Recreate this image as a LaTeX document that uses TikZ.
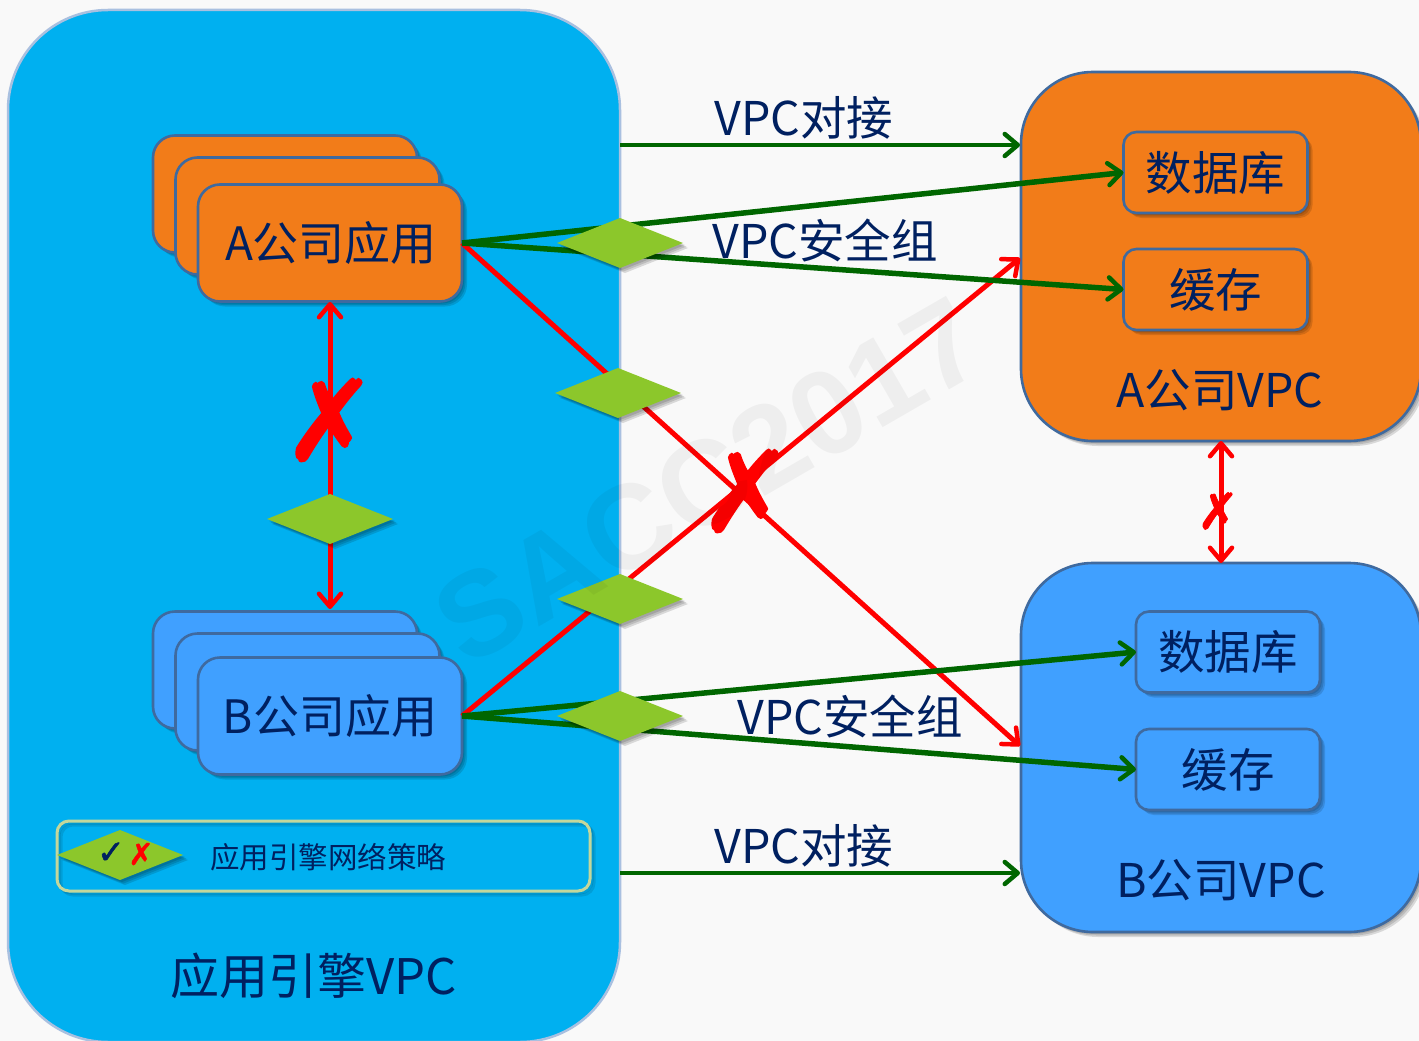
\documentclass[tikz,border=0pt]{standalone}
\usepackage{fontspec}
\setmainfont{Noto Sans CJK SC}
\newfontfamily\symfont{DejaVu Sans}
\newfontfamily\symbold{DejaVu Sans}[FakeBold=1.6]
\newfontfamily\wmfont{Liberation Sans}[BoldFont={Liberation Sans Bold}]
\usetikzlibrary{shapes.geometric,shadows,arrows.meta}
\definecolor{navy}{HTML}{002060}
\definecolor{skyb}{HTML}{00B0F0}
\definecolor{orangeb}{HTML}{F27C19}
\definecolor{blueb}{HTML}{40A0FF}
\definecolor{edgeb}{HTML}{3F6A9F}
\definecolor{mainedge}{HTML}{A9C0E0}
\definecolor{legedge}{HTML}{C4D79B}
\definecolor{greenl}{HTML}{006600}
\definecolor{dia}{HTML}{8CC72B}
\definecolor{bgc}{HTML}{F9F9F9}
\tikzset{
 softshadow/.style={
  general shadow={fill=black,opacity=.13,shadow xshift=2pt,shadow yshift=-2pt},
  general shadow={fill=black,opacity=.13,shadow xshift=3.5pt,shadow yshift=-3.5pt},
  general shadow={fill=black,opacity=.13,shadow xshift=5pt,shadow yshift=-5pt}},
 boxb/.style={rectangle,draw=edgeb,line width=2.6pt,inner sep=0pt,outer sep=0pt,text=navy,softshadow},
 txt/.style={text=navy,inner sep=0pt,font=\fontsize{46.5}{50}\selectfont},
 app/.style={boxb,minimum width=264pt,minimum height=117pt,rounded corners=22pt,font=\fontsize{46}{50}\selectfont},
 store/.style={boxb,minimum width=184pt,minimum height=81pt,rounded corners=13pt,font=\fontsize{46.5}{50}\selectfont},
 vpc/.style={boxb,minimum width=400pt,minimum height=369pt,rounded corners=72pt},
 gate/.style={diamond,fill=dia,inner sep=0pt,outer sep=0pt,minimum width=126pt,minimum height=50pt,softshadow},
 barb/.tip={Straight Barb[length=13pt,width=22pt,round,line width=4.5pt]},
 gline/.style={draw=greenl,line width=5.5pt,-barb},
 rline/.style={draw=red,line width=5pt},
 rtip/.style={barb-barb},
 crossm/.style={text=red,inner sep=0pt,font=\symbold\fontsize{#1}{#1}\selectfont}
}
\begin{document}
\begin{tikzpicture}[x=1pt,y=-1pt]
\useasboundingbox (0,0) rectangle (1419,1041);
\clip (0,0) rectangle (1419,1041);
\fill[bgc] (0,0) rectangle (1419,1041);
% large regions
\node[rectangle,draw=mainedge,line width=2.5pt,fill=skyb,inner sep=0pt,minimum width=612pt,minimum height=1032pt,rounded corners=100pt] (main) at (314,526) {};
\node[vpc,fill=orangeb] (vpca) at (1221,256.5) {};
\node[vpc,fill=blueb] (vpcb) at (1221,747.5) {};
% application stacks
\node[app,fill=orangeb] (a1) at (285,194) {};
\node[app,fill=orangeb] (a2) at (307.5,216) {};
\node[app,fill=orangeb] (a3) at (330,243) {\raisebox{-1pt}{\hspace{2pt}A公司应用}};
\node[app,fill=blueb] (b1) at (285,670) {};
\node[app,fill=blueb] (b2) at (307.5,692) {};
\node[app,fill=blueb] (b3) at (330,716) {B公司应用};
% stores
\node[store,fill=orangeb] (dba) at (1215.5,172.5) {数据库};
\node[store,fill=orangeb] (caa) at (1215.5,289.5) {缓存};
\node[store,fill=blueb] (dbb) at (1228,652) {数据库};
\node[store,fill=blueb] (cab) at (1228,769.5) {缓存};
% connector end points
\coordinate (p1) at (620,145);
\coordinate (p2) at (1020,145);
\coordinate (p3) at (620,873);
\coordinate (p4) at (1020,873);
\coordinate (r1) at (1020,746);
\coordinate (r2) at (1020,258);
\coordinate (v1) at (330,302);
\coordinate (v2) at (330,609);
% connectors
\draw[rline,-barb] (a3.east) -- (r1);
\draw[rline,-barb] (b3.east) -- (r2);
\draw[gline,line width=4.5pt] (p1) -- (p2);
\draw[gline,line width=4.5pt] (p3) -- (p4);
\draw[gline] (a3.east) -- (dba.west);
\draw[gline] (a3.east) -- (caa.west);
\draw[gline] (b3.east) -- (dbb.west);
\draw[gline] (b3.east) -- (cab.west);
\draw[rline,rtip] (v1) -- (v2);
\draw[rline,rtip] (vpca.south) -- (vpcb.north);
% gates
\node[gate] (g1) at (620,243) {};
\node[gate] (g2) at (618,393) {};
\node[gate] (g3) at (330,519) {};
\node[gate] (g4) at (620,599) {};
\node[gate] (g5) at (620,716) {};
% crosses
\node[crossm=112] (x1) at (330,420) {✗};
\node[crossm=112] (x2) at (746,491) {✗};
\node[crossm=50] (x3) at (1218,511) {✗};
% labels
\node[txt] (l1) at (804,118) {VPC对接};
\node[txt] (l2) at (825,241) {VPC安全组};
\node[txt] (l3) at (850,716) {VPC安全组};
\node[txt] (l4) at (804,846) {VPC对接};
\node[txt] (l5) at (1220,390) {A公司VPC};
\node[txt] (l6) at (1221,880) {B公司VPC};
\node[txt,font=\fontsize{49}{54}\selectfont] (l7) at (314,976) {应用引擎VPC};
% legend
\node[rectangle,draw=legedge,line width=3pt,inner sep=0pt,minimum width=533pt,minimum height=70pt,rounded corners=12pt,
  general shadow={draw=black,fill=none,line width=3pt,opacity=.10,shadow xshift=2pt,shadow yshift=-2pt},
  general shadow={draw=black,fill=none,line width=3pt,opacity=.10,shadow xshift=4pt,shadow yshift=-4pt}] (leg) at (323.5,856) {};
\node[gate] (g6) at (120,855) {};
\node[text=navy,inner sep=0pt,font=\symbold\fontsize{33}{33}\selectfont] (ck) at (111,853) {✓};
\node[crossm=30] (cx) at (141,854) {✗};
\node[txt,font=\fontsize{29.5}{32}\selectfont] (l8) at (328,857) {应用引擎网络策略};
% watermark
\node[rotate=30,opacity=.045,text=black,inner sep=0pt,font=\wmfont\bfseries\fontsize{120}{120}\selectfont] (wm) at (709,481) {SACC2017};
\end{tikzpicture}
\end{document}
